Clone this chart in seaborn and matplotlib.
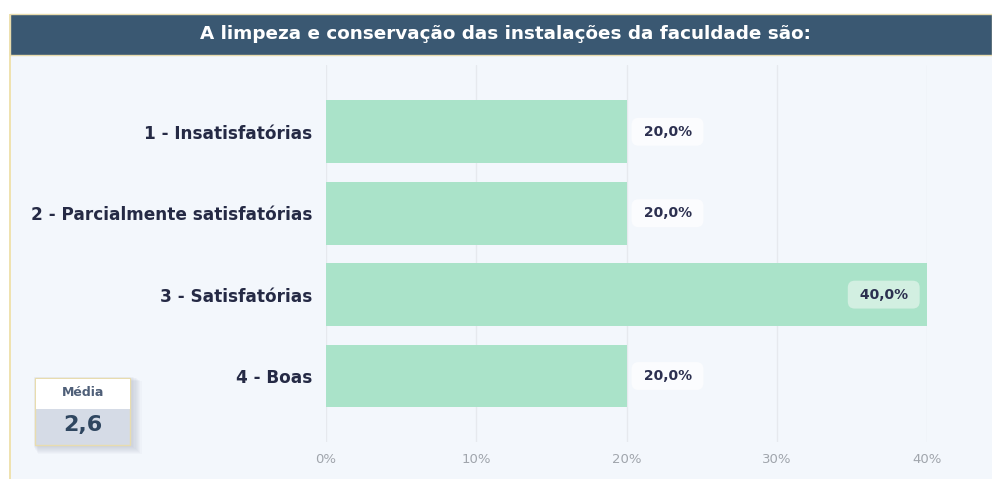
import matplotlib
matplotlib.use("Agg")
import matplotlib.pyplot as plt
import seaborn as sns
import pandas as pd
from matplotlib.patches import Rectangle
from matplotlib.ticker import FuncFormatter

categories = ["1 - Insatisfatórias", "2 - Parcialmente satisfatórias", "3 - Satisfatórias", "4 - Boas"]
values = [20.0, 20.0, 40.0, 20.0]
value_labels = ["20,0%", "20,0%", "40,0%", "20,0%"]
title = "A limpeza e conservação das instalações da faculdade são:"
media_label = "Média"
media_value = "2,6"
xticks = [0, 10, 20, 30, 40]

sns.set_theme(style="white")
plt.rcParams['font.family'] = ['DejaVu Sans']

W, H = 992, 479
fig = plt.figure(figsize=(W/100, H/100), dpi=100)
fig.patch.set_facecolor("white")

bg = "#f3f7fc"
fig.add_artist(Rectangle((10/W, 0), (W-10)/W, 1-55/H, transform=fig.transFigure,
                         facecolor=bg, edgecolor="none", zorder=0))
fig.add_artist(Rectangle((9/W, 0), 2/W, 1-14/H, transform=fig.transFigure,
                         facecolor="#efe2b0", edgecolor="none", zorder=1))
fig.add_artist(Rectangle((10/W, 1-55/H), (W-10)/W, 41/H, transform=fig.transFigure,
                         facecolor="#3a5872", edgecolor="#e8dcae", linewidth=1, zorder=2))
fig.text(505/W, 1-34/H, title, color="white", fontsize=13.2, fontweight="bold",
         ha="center", va="center", zorder=3)

ax = fig.add_axes([326/W, 1-442/H, (927-326)/W, (442-65)/H])
ax.set_facecolor(bg)
df = pd.DataFrame({"cat": categories, "val": values})
sns.barplot(data=df, x="val", y="cat", color="#aae3c9", width=0.77, ax=ax, zorder=2,
            saturation=1, edgecolor="none", linewidth=0)
ax.set_xlim(0, 40)
ax.set_ylim(3.81, -0.82)
ax.set_xticks(xticks)
ax.xaxis.set_major_formatter(FuncFormatter(lambda v, p: f"{int(v)}%"))
ax.grid(axis="x", color="#e6e9ee", linewidth=1, zorder=0)
ax.set_axisbelow(True)
for s in ax.spines.values():
    s.set_visible(False)
ax.set_xlabel("")
ax.set_ylabel("")
ax.tick_params(axis="x", colors="#a0a5ac", labelsize=9.5, length=0, pad=8)
ax.tick_params(axis="y", length=0, pad=10)
for lab in ax.get_yticklabels():
    lab.set_color("#252a45")
    lab.set_fontsize(12.2)
    lab.set_fontweight("bold")

for i, (v, lab) in enumerate(zip(values, value_labels)):
    if v >= 35:
        ax.text(v - 0.95, i, " " + lab + " ", ha="right", va="center", fontsize=10, fontweight="bold",
                color="#2c3050", zorder=5,
                bbox=dict(boxstyle="round,pad=0.5,rounding_size=0.5", facecolor="#d2efe1", edgecolor="none"))
    else:
        ax.text(v + 0.8, i, " " + lab + " ", ha="left", va="center", fontsize=10, fontweight="bold",
                color="#2c3050", zorder=5,
                bbox=dict(boxstyle="round,pad=0.5,rounding_size=0.5", facecolor="#fbfcfe", edgecolor="none"))

# Média card with soft shadow
for k in range(8):
    off = 8 - k
    fig.add_artist(Rectangle(((33 + off*0.6)/W, 1-(446 + off)/H), (99 + off*0.6)/W, (70 + off*0.4)/H,
                             transform=fig.transFigure, facecolor="#7d869c", edgecolor="none",
                             alpha=0.04, zorder=3))
fig.add_artist(Rectangle((35/W, 1-445/H), 95/W, 67/H, transform=fig.transFigure,
                         facecolor="#d5dbe6", edgecolor="#e8dcae", linewidth=1, zorder=4))
fig.add_artist(Rectangle((35.5/W, 1-409/H), 94/W, 30.5/H, transform=fig.transFigure,
                         facecolor="white", edgecolor="none", zorder=5))
fig.text(83/W, 1-393/H, media_label, ha="center", va="center", fontsize=9, fontweight="bold",
         color="#4f5f78", zorder=6)
fig.text(83/W, 1-425/H, media_value, ha="center", va="center", fontsize=16, fontweight="bold",
         color="#2f4660", zorder=6)

fig.savefig("out.png", dpi=100, facecolor=fig.get_facecolor())
